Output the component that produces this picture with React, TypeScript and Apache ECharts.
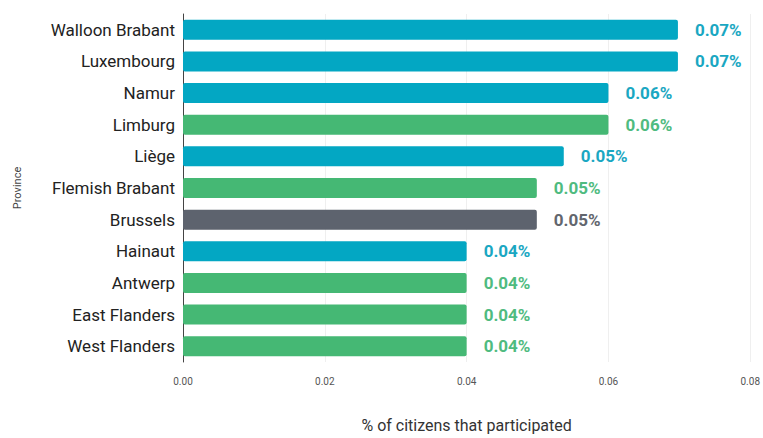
import React, { useEffect, useRef } from "react";
import * as echarts from "echarts";

const provinces = [
  "Walloon Brabant",
  "Luxembourg",
  "Namur",
  "Limburg",
  "Liège",
  "Flemish Brabant",
  "Brussels",
  "Hainaut",
  "Antwerp",
  "East Flanders",
  "West Flanders",
];
const participation = [0.0698, 0.0698, 0.06, 0.06, 0.0537, 0.0499, 0.0499, 0.04, 0.04, 0.04, 0.04];
const regions = [
  "Wallonia",
  "Wallonia",
  "Wallonia",
  "Flanders",
  "Wallonia",
  "Flanders",
  "Brussels",
  "Wallonia",
  "Flanders",
  "Flanders",
  "Flanders",
];
const xTicks = [0, 0.02, 0.04, 0.06, 0.08];

const barColors: Record<string, string> = {
  Wallonia: "#03a7c3",
  Flanders: "#45b874",
  Brussels: "#5d636e",
};
const labelColors: Record<string, string> = {
  Wallonia: "#1aa7c2",
  Flanders: "#4fbb80",
  Brussels: "#62666e",
};

export default function App() {
  const ref = useRef<HTMLDivElement>(null);
  useEffect(() => {
    if (!ref.current) return;
    const chart = echarts.init(ref.current, undefined, { renderer: "svg" });
    chart.setOption({
      animation: false,
      textStyle: { fontFamily: "Roboto" },
      grid: { left: 183, right: 8, top: 14, height: 355, containLabel: false },
      xAxis: {
        type: "value",
        min: xTicks[0],
        max: xTicks[xTicks.length - 1],
        interval: 0.02,
        axisLine: { show: false },
        axisTick: { show: false },
        axisLabel: {
          color: "#555",
          fontSize: 10,
          margin: 14,
          formatter: (v: number) => v.toFixed(2),
        },
        splitLine: { show: true, lineStyle: { color: "#efefef", width: 1 } },
        name: "% of citizens that participated",
        nameLocation: "middle",
        nameGap: 55,
        nameTextStyle: { color: "#333", fontSize: 16 },
      },
      yAxis: {
        type: "category",
        data: provinces,
        inverse: true,
        axisLine: { show: true, lineStyle: { color: "#444", width: 1 } },
        axisTick: { show: false },
        axisLabel: { color: "#222", fontSize: 17, margin: 8 },
        name: "Province",
        nameLocation: "middle",
        nameGap: 160,
        nameRotate: 90,
        nameTextStyle: { color: "#444", fontSize: 11 },
      },
      series: [
        {
          type: "bar",
          barWidth: 20,
          data: participation.map((v, i) => ({
            value: v,
            itemStyle: { color: barColors[regions[i]], borderRadius: 2 },
            label: { color: labelColors[regions[i]] },
          })),
          label: {
            show: true,
            position: "right",
            distance: 17,
            fontSize: 17,
            fontWeight: "bold",
            formatter: (p: any) => (p.value as number).toFixed(2) + "%",
          },
        },
      ],
    });
    return () => chart.dispose();
  }, []);
  return (
    <div
      ref={ref}
      style={{ position: "absolute", left: 0, top: 0, width: 763, height: 438 }}
    />
  );
}
